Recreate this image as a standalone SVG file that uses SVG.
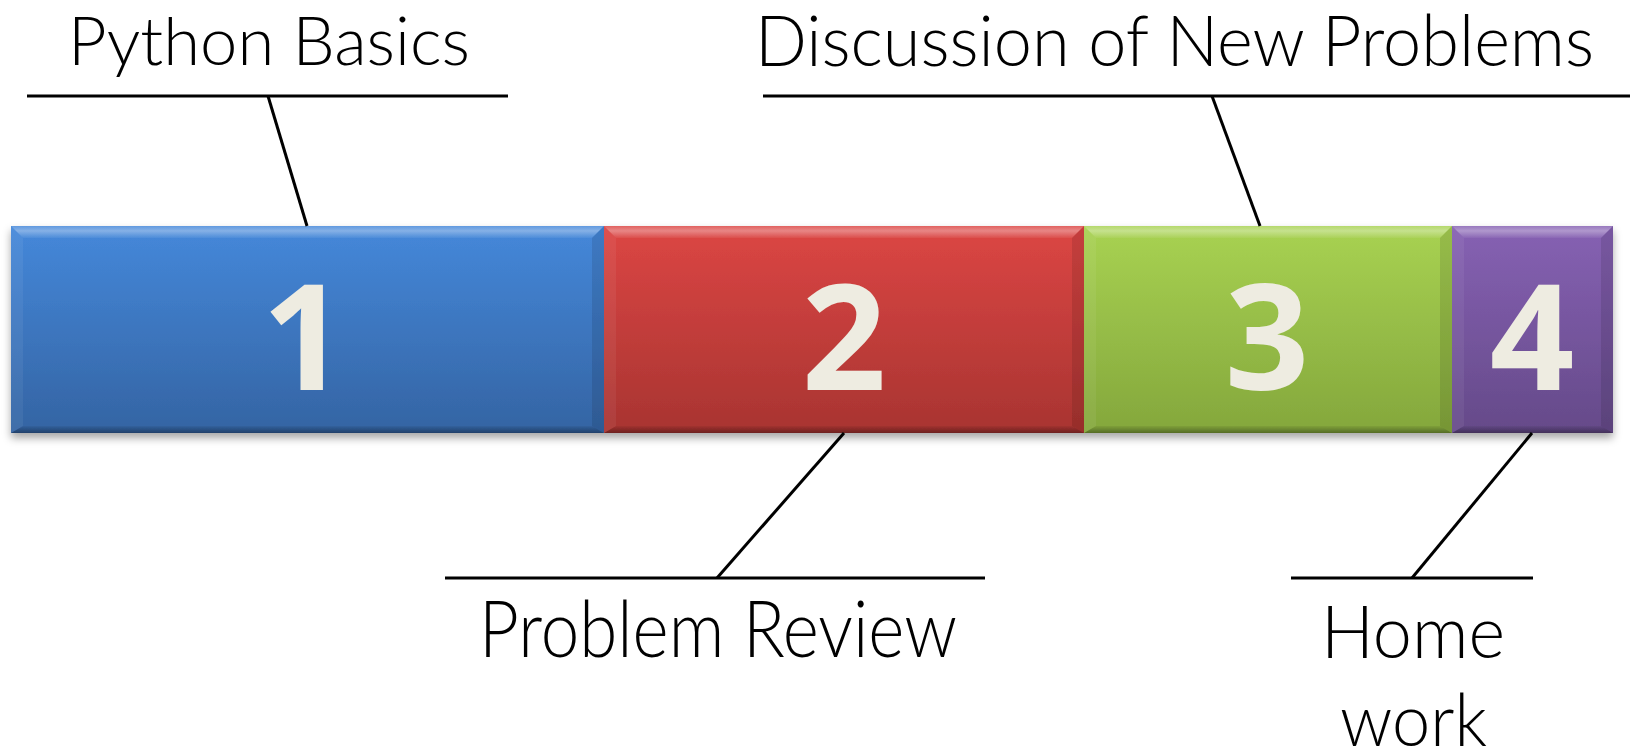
<svg xmlns="http://www.w3.org/2000/svg" width="1630" height="752" viewBox="0 0 1630 752">
  <defs>
    <linearGradient id="gBlue" x1="0" y1="0" x2="0" y2="1">
      <stop offset="0" stop-color="#4588da"/>
      <stop offset="1" stop-color="#3464a3"/>
    </linearGradient>
    <linearGradient id="gRed" x1="0" y1="0" x2="0" y2="1">
      <stop offset="0" stop-color="#dc4644"/>
      <stop offset="1" stop-color="#a83431"/>
    </linearGradient>
    <linearGradient id="gGreen" x1="0" y1="0" x2="0" y2="1">
      <stop offset="0" stop-color="#a8d252"/>
      <stop offset="1" stop-color="#84a73c"/>
    </linearGradient>
    <linearGradient id="gPurple" x1="0" y1="0" x2="0" y2="1">
      <stop offset="0" stop-color="#8661b3"/>
      <stop offset="1" stop-color="#654a89"/>
    </linearGradient>
    <linearGradient id="gTopBevel" x1="0" y1="0" x2="0" y2="1">
      <stop offset="0" stop-color="#ffffff" stop-opacity="0.15"/>
      <stop offset="0.4" stop-color="#ffffff" stop-opacity="0.35"/>
      <stop offset="1" stop-color="#ffffff" stop-opacity="0.05"/>
    </linearGradient>
    <linearGradient id="gBottomBevel" x1="0" y1="0" x2="0" y2="1">
      <stop offset="0" stop-color="#000000" stop-opacity="0.05"/>
      <stop offset="1" stop-color="#000000" stop-opacity="0.35"/>
    </linearGradient>
    <filter id="shadow" x="-5%" y="-20%" width="110%" height="150%">
      <feDropShadow dx="0" dy="5" stdDeviation="4" flood-color="#000000" flood-opacity="0.35"/>
    </filter>
  </defs>
  <style>
    .top { fill: url(#gTopBevel); }
    .bottom { fill: url(#gBottomBevel); }
    .left { fill: #ffffff; fill-opacity: 0.06; }
    .right { fill: #000000; fill-opacity: 0.1; }
    .digit { font-family: "Open Sans", "DejaVu Sans", sans-serif; font-weight: 700; font-size: 148px; fill: #eeece1; text-anchor: middle; }
    .label { font-family: "Lato", "Open Sans", sans-serif; font-weight: 300; fill: #000000; }
    .conn line { stroke: #000000; stroke-width: 3; fill: none; }
  </style>

  <rect width="1630" height="752" fill="#ffffff"/>

  <!-- timeline bar made of four bevelled segments -->
  <g id="bar" filter="url(#shadow)">
    <g id="seg1">
      <rect x="11" y="226" width="593" height="207" fill="url(#gBlue)"/>
      <polygon class="top" points="11,226 604,226 592,238 23,238"/>
      <polygon class="bottom" points="23,426 592,426 604,433 11,433"/>
      <polygon class="left" points="11,226 23,238 23,426 11,433"/>
      <polygon class="right" points="604,226 604,433 592,426 592,238"/>
      <text class="digit" x="304" y="390">1</text>
    </g>
    <g id="seg2">
      <rect x="604" y="226" width="480" height="207" fill="url(#gRed)"/>
      <polygon class="top" points="604,226 1084,226 1072,238 616,238"/>
      <polygon class="bottom" points="616,426 1072,426 1084,433 604,433"/>
      <polygon class="left" points="604,226 616,238 616,426 604,433"/>
      <polygon class="right" points="1084,226 1084,433 1072,426 1072,238"/>
      <text class="digit" x="844" y="390">2</text>
    </g>
    <g id="seg3">
      <rect x="1084" y="226" width="368" height="207" fill="url(#gGreen)"/>
      <polygon class="top" points="1084,226 1452,226 1440,238 1096,238"/>
      <polygon class="bottom" points="1096,426 1440,426 1452,433 1084,433"/>
      <polygon class="left" points="1084,226 1096,238 1096,426 1084,433"/>
      <polygon class="right" points="1452,226 1452,433 1440,426 1440,238"/>
      <text class="digit" x="1267" y="390">3</text>
    </g>
    <g id="seg4">
      <rect x="1452" y="226" width="161" height="207" fill="url(#gPurple)"/>
      <polygon class="top" points="1452,226 1613,226 1601,238 1464,238"/>
      <polygon class="bottom" points="1464,426 1601,426 1613,433 1452,433"/>
      <polygon class="left" points="1452,226 1464,238 1464,426 1452,433"/>
      <polygon class="right" points="1613,226 1613,433 1601,426 1601,238"/>
      <text class="digit" x="1532" y="390">4</text>
    </g>
  </g>

  <!-- callout leaders -->
  <g id="connectors" class="conn">
    <line x1="27" y1="96" x2="508" y2="96"/>
    <line x1="268" y1="96" x2="307" y2="226"/>
    <line x1="763" y1="96" x2="1630" y2="96"/>
    <line x1="1212" y1="96" x2="1260" y2="226"/>
    <line x1="445" y1="578" x2="985" y2="578"/>
    <line x1="717" y1="578" x2="844" y2="433"/>
    <line x1="1291" y1="578" x2="1533" y2="578"/>
    <line x1="1412" y1="578" x2="1532" y2="433"/>
  </g>

  <!-- labels -->
  <g id="label1">
    <text class="label" x="68" y="65" font-size="67" textLength="402" lengthAdjust="spacingAndGlyphs">Python Basics</text>
  </g>
  <g id="label3">
    <text class="label" x="755" y="66" font-size="70" textLength="839" lengthAdjust="spacingAndGlyphs">Discussion of New Problems</text>
  </g>
  <g id="label2">
    <text class="label" x="479" y="657" font-size="78" textLength="478" lengthAdjust="spacingAndGlyphs">Problem Review</text>
  </g>
  <g id="label4">
    <text class="label" x="1321" y="658" font-size="73" textLength="184" lengthAdjust="spacingAndGlyphs">Home</text>
    <text class="label" x="1340" y="746" font-size="73" textLength="147" lengthAdjust="spacingAndGlyphs">work</text>
  </g>
</svg>
